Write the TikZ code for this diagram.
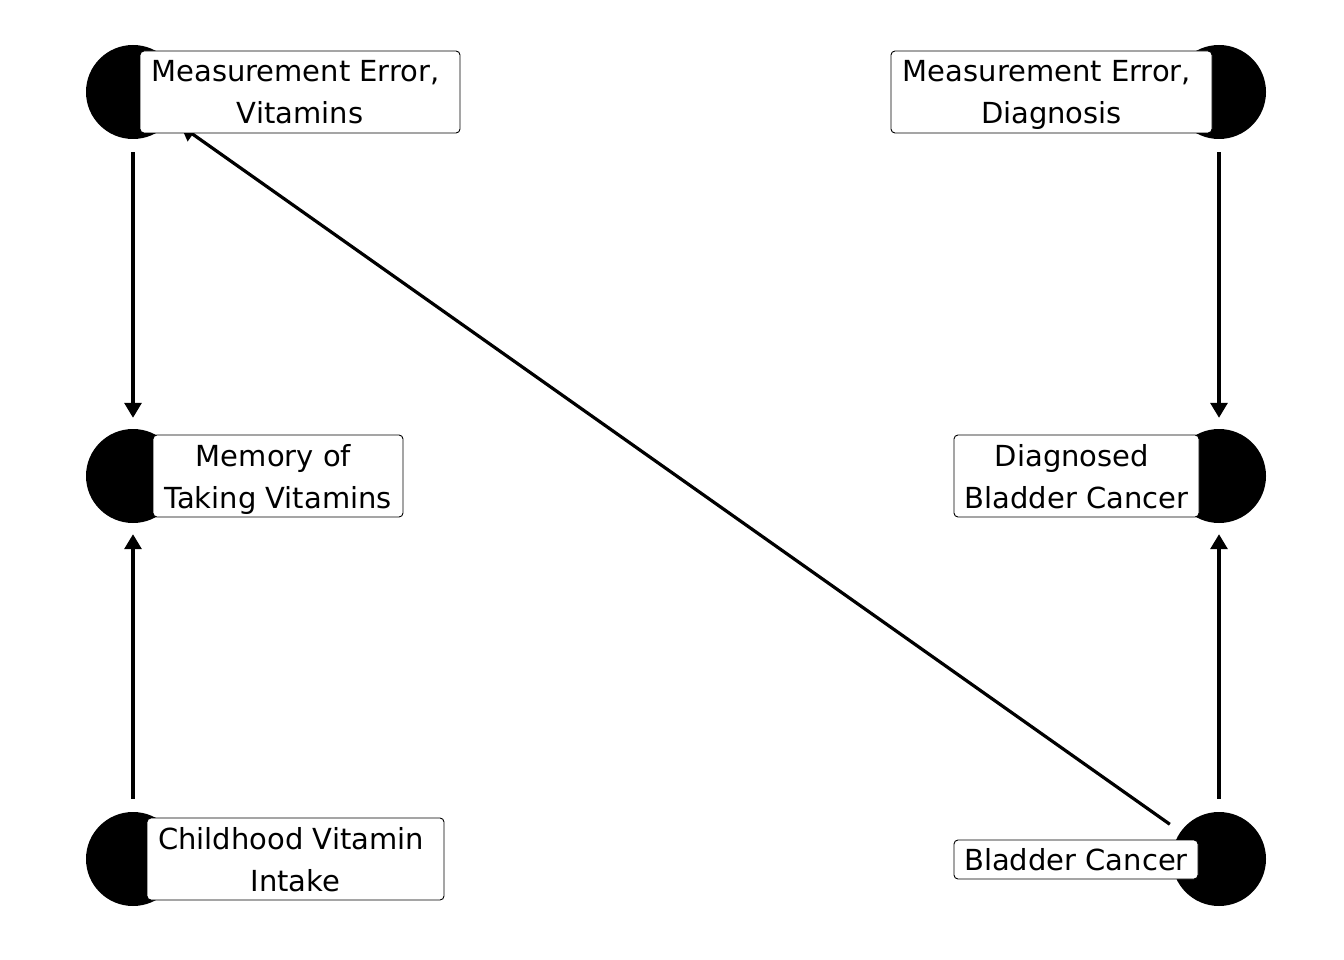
\documentclass[tikz,border=0pt]{standalone}
\usepackage{fontspec}
\setmainfont{DejaVu Sans}
\usetikzlibrary{arrows.meta}
\newcommand\labstrut{\rule[-8pt]{0pt}{38pt}}
\newcommand\trailsp{\hbox to 9pt{}}
\begin{document}
\begin{tikzpicture}[x=1pt,y=-1pt,
  dot/.style={circle,fill=black,minimum size=94pt,inner sep=0pt},
  lab/.style={draw=black,fill=white,rounded corners=4pt,line width=0.9pt,inner sep=0pt,align=center,font=\fontsize{29}{42}\selectfont},
  edge/.style={line width=3.2pt,-{Triangle[length=15pt,width=17pt]},shorten >=11pt,shorten <=13pt}]
\useasboundingbox (0,0) rectangle (1344,960);
% circles
\node[dot] (mev) at (133,92) {};
\node[dot] (med) at (1219,92) {};
\node[dot] (mem) at (133,476) {};
\node[dot] (dbc) at (1219,476) {};
\node[dot] (cvi) at (133,859) {};
\node[dot] (bc)  at (1219,859) {};
% edges
\draw[edge] (mev) -- (mem);
\draw[edge] (med) -- (dbc);
\draw[edge] (cvi) -- (mem);
\draw[edge] (bc) -- (dbc);
\draw[edge] (bc) -- (mev);
% labels
\node[lab,minimum width=320pt,minimum height=82pt] (lmev) at (300,92) {\labstrut Measurement Error,\trailsp\\\labstrut Vitamins};
\node[lab,minimum width=321pt,minimum height=82pt] (lmed) at (1051.5,92) {\labstrut Measurement Error,\trailsp\\\labstrut Diagnosis};
\node[lab,minimum width=250pt,minimum height=82pt] (lmem) at (278,476) {\labstrut Memory of\trailsp\\\labstrut Taking Vitamins};
\node[lab,minimum width=245pt,minimum height=82pt] (ldbc) at (1076.5,476) {\labstrut Diagnosed\trailsp\\\labstrut Bladder Cancer};
\node[lab,minimum width=297pt,minimum height=82pt] (lcvi) at (295.5,859) {\labstrut Childhood Vitamin\trailsp\\\labstrut Intake};
\node[lab,minimum width=244pt,minimum height=39pt] (lbc) at (1076,859.5) {\labstrut Bladder Cancer};
\end{tikzpicture}
\end{document}
